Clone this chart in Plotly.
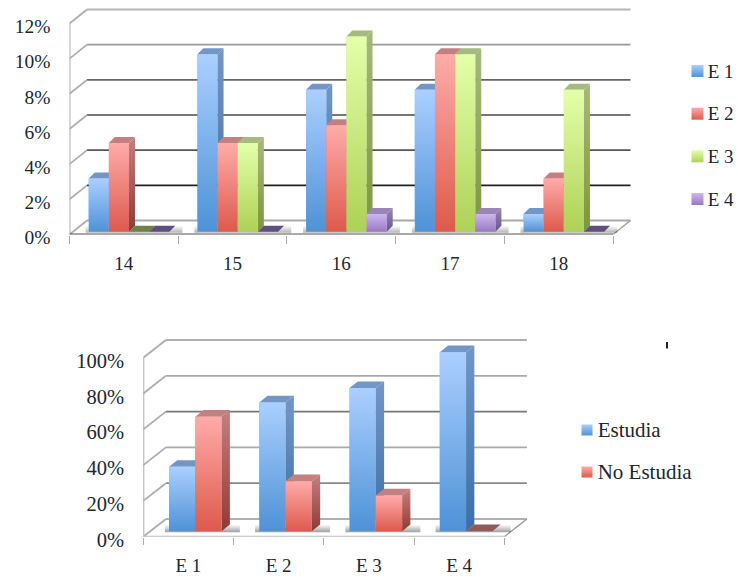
import plotly.graph_objects as go

W, H = 738, 578

# ---------- data ----------
ages = ["14", "15", "16", "17", "18"]
e1 = [3, 10, 8, 8, 1]
e2 = [5, 5, 6, 10, 3]
e3 = [0, 5, 11, 10, 8]
e4 = [0, 0, 1, 1, 0]
age_ticks = [0, 2, 4, 6, 8, 10, 12]

stages = ["E 1", "E 2", "E 3", "E 4"]
estudia = [36, 72, 80, 100]
no_estudia = [64, 28, 20, 0]
pct_ticks = [0, 20, 40, 60, 80, 100]

# ---------- palette ----------
PAL = {
    "blue":   dict(top="#abcfff", bot="#4e92d6", mid="#7fb0ea", stop="#7396c6", sbot="#3c6ea6", ztop="#56729c"),
    "red":    dict(top="#ffabaa", bot="#dd5a4c", mid="#ee827a", stop="#c38080", sbot="#8f3a34", ztop="#8e5a5a"),
    "green":  dict(top="#e4ffaa", bot="#aed156", mid="#c9e880", stop="#a6b97e", sbot="#7c963f", ztop="#6f8145"),
    "purple": dict(top="#cdb6ee", bot="#9a78c4", mid="#b397d9", stop="#9a86b6", sbot="#69538f", ztop="#5f4f80"),
}

PANELS = [
    dict(x="x", y="y", cats=ages, ticks=age_ticks,
         series=[("E 1", e1, "blue"), ("E 2", e2, "red"), ("E 3", e3, "green"), ("E 4", e4, "purple")],
         left=69.5, right=613.0, y0=234.5, ytop=23.5, vmax=12, pad_right=24, pad_top=5,
         back=(17.5, 14.0), depth=(6.0, 6.0), base_px=2.8, scale=1.009,
         start=19.2, bar=20.15, tlen_x=12, tlen_y=14, mlen=8, yfont=19.5, xfont=19,
         grid=["#aaaaaa", "#222222", "#555555", "#777777", "#666666", "#999999", "#b5b5b5"],
         front="#555555", shadow=0.30),
    dict(x="x2", y="y2", cats=stages, ticks=pct_ticks,
         series=[("Estudia", estudia, "blue"), ("No Estudia", no_estudia, "red")],
         left=143.3, right=504.3, y0=536.7, ytop=357.7, vmax=100, pad_right=26, pad_top=5,
         back=(22.6, 17.7), depth=(8.3, 6.7), base_px=5.4, scale=1.0,
         start=25.7, bar=26.3, tlen_x=11, tlen_y=14, mlen=7, yfont=20.5, xfont=19,
         grid=["#b0b0b0", "#888888", "#aaaaaa", "#777777", "#aaaaaa", "#b0b0b0"],
         front="#bbbbbb", shadow=0.38),
]

LEGENDS = [
    dict(names=["E 1", "E 2", "E 3", "E 4"], colors=["blue", "red", "green", "purple"],
         cx=697.5, tx=707.7, ys=[71, 113.7, 156.3, 199], size=12, font=19),
    dict(names=["Estudia", "No Estudia"], colors=["blue", "red"],
         cx=587, tx=597.7, ys=[430, 472], size=11, font=21),
]

TEXT = "#20262e"
FONT = "Liberation Serif"
fig = go.Figure()


def poly(p, xs, ys, fill=None, grad=None, orient="vertical"):
    kw = dict(fillcolor=fill) if fill else dict(
        fillgradient=dict(type=orient, colorscale=[[0, grad[0]], [1, grad[1]]]))
    fig.add_trace(go.Scatter(x=xs + xs[:1], y=ys + ys[:1], mode="lines", fill="toself",
                             line=dict(width=0), hoverinfo="skip", showlegend=False,
                             xaxis=p["x"], yaxis=p["y"], **kw))


def line(p, xs, ys, color, width):
    fig.add_trace(go.Scatter(x=xs, y=ys, mode="lines", line=dict(color=color, width=width),
                             hoverinfo="skip", showlegend=False, xaxis=p["x"], yaxis=p["y"]))


for p in PANELS:
    n = len(p["cats"])
    cw = (p["right"] - p["left"]) / n          # px per category
    vh = (p["y0"] - p["ytop"]) / p["vmax"]     # px per value unit
    bx, by = p["back"][0] / cw, p["back"][1] / vh
    dx, dy = p["depth"][0] / cw, p["depth"][1] / vh
    base = p["base_px"] / vh
    start, bw = p["start"] / cw, p["bar"] / cw
    xmax = n + p["pad_right"] / cw
    p["xrange"] = [0, xmax]
    p["yrange"] = [0, (p["y0"] - p["pad_top"]) / vh if p["y"] == "y" else (p["y0"] - 335) / vh]

    # floor
    poly(p, [0, n, n + bx, bx], [0, 0, by, by], fill="#ffffff")
    # wall + grid
    for t, col in zip(p["ticks"], p["grid"]):
        line(p, [bx, n + bx], [t + by, t + by], col, 1.8)
        line(p, [0, bx], [t, t + by], "#adadad", 1.8)
    line(p, [0, 0], [0, p["vmax"]], "#adadad", 2)
    line(p, [n, n + bx], [0, by], "#999999", 1.3)
    line(p, [0, n], [0, 0], p["front"], 1.8)

    # soft shadow on the floor under every group
    m = len(p["series"])
    for i in range(n):
        x0 = i + start
        x1 = x0 + m * bw
        poly(p, [x0 - dx * 0.5, x1 + dx * 2.2, x1 + dx * 2.2, x0 - dx * 0.5],
             [base - 1 / vh, base - 1 / vh, base + dy, base + dy],
             grad=(f"rgba(0,0,0,{p['shadow']})", "rgba(0,0,0,0)"))

    # native bars carrying the values
    for s, (name, vals, c) in enumerate(p["series"]):
        fig.add_trace(go.Bar(x=[i + start + s * bw for i in range(n)],
                             y=[v * p["scale"] for v in vals], base=base, width=bw, offset=0,
                             name=name, marker=dict(color=PAL[c]["mid"], line=dict(width=0)),
                             customdata=p["cats"], hovertemplate="%{customdata}: %{y}<extra>" + name + "</extra>",
                             showlegend=False, xaxis=p["x"], yaxis=p["y"]))

    # 3-D faces drawn from the same values
    for i in range(n):
        for s, (name, vals, c) in enumerate(p["series"]):
            col = PAL[c]
            x0 = i + start + s * bw
            x1 = x0 + bw
            top = base + vals[i] * p["scale"]
            if vals[i] == 0:
                poly(p, [x0, x1, x1 + dx, x0 + dx], [top, top, top + dy, top + dy], fill=col["ztop"])
                continue
            poly(p, [x1, x1 + dx, x1 + dx, x1], [base, base + dy, top + dy, top],
                 grad=(col["sbot"], col["stop"]))
            poly(p, [x0, x1, x1 + dx, x0 + dx], [top, top, top + dy, top + dy], fill=col["stop"])
            poly(p, [x0, x1, x1, x0], [base, base, top, top], grad=(col["bot"], col["top"]))

# legends (gradient keys with real text)
for lg in LEGENDS:
    for name, c, ypx in zip(lg["names"], lg["colors"], lg["ys"]):
        fig.add_trace(go.Scatter(
            x=[lg["cx"]], y=[ypx], mode="markers", name=name, showlegend=False, hoverinfo="skip",
            marker=dict(symbol="square", size=lg["size"], color=PAL[c]["top"],
                        gradient=dict(type="vertical", color=PAL[c]["bot"]), line=dict(width=0)),
            xaxis="x3", yaxis="y3"))
        fig.add_trace(go.Scatter(
            x=[lg["tx"]], y=[ypx + 2], mode="text", text=[name], textposition="middle right",
            textfont=dict(family=FONT, size=lg["font"], color=TEXT), showlegend=False,
            hoverinfo="skip", xaxis="x3", yaxis="y3"))


def axis_layout(p):
    n = len(p["cats"])
    xr, yr = p["xrange"], p["yrange"]
    vh = (p["y0"] - p["ytop"]) / p["vmax"]
    cw = (p["right"] - p["left"]) / n
    xdom = [p["left"] / W, (p["left"] + xr[1] * cw) / W]
    ydom = [1 - p["y0"] / H, 1 - (p["y0"] - yr[1] * vh) / H]
    xa = dict(domain=xdom, range=xr, showgrid=False, zeroline=False, showline=False, automargin=False,
              tickmode="array", tickvals=[i + 0.5 for i in range(n)], ticktext=p["cats"],
              ticks="outside", ticklen=p["tlen_x"], tickcolor="rgba(0,0,0,0)",
              tickfont=dict(family=FONT, size=p["xfont"], color=TEXT),
              minor=dict(tickmode="array", tickvals=list(range(n + 1)), ticks="outside",
                         ticklen=p["mlen"], tickcolor="#aaaaaa", tickwidth=1.3, showgrid=False),
              fixedrange=True, anchor=p["y"])
    ya = dict(domain=ydom, range=yr, showgrid=False, zeroline=False, showline=False, automargin=False,
              tickmode="array", tickvals=p["ticks"], ticktext=[f"{t}%" for t in p["ticks"]],
              ticks="outside", ticklen=p["tlen_y"], tickcolor="rgba(0,0,0,0)", ticklabelshift=3,
              tickfont=dict(family=FONT, size=p["yfont"], color=TEXT),
              fixedrange=True, anchor=p["x"])
    return xa, ya


xa1, ya1 = axis_layout(PANELS[0])
xa2, ya2 = axis_layout(PANELS[1])

fig.update_layout(
    width=W, height=H, margin=dict(l=0, r=0, t=0, b=0),
    paper_bgcolor="white", plot_bgcolor="rgba(0,0,0,0)",
    barmode="overlay", showlegend=False,
    xaxis=xa1, yaxis=ya1, xaxis2=xa2, yaxis2=ya2,
    xaxis3=dict(domain=[0, 1], range=[0, W], visible=False, fixedrange=True, anchor="y3", automargin=False),
    yaxis3=dict(domain=[0, 1], range=[H, 0], visible=False, fixedrange=True, anchor="x3", automargin=False),
    shapes=[dict(type="line", xref="paper", yref="paper", x0=667 / W, x1=667 / W,
                 y0=1 - 342 / H, y1=1 - 348.5 / H, line=dict(color="#222222", width=2))],
)

fig.write_html("out.html", config={"displayModeBar": False},
               post_script="document.body.style.margin='0';document.body.style.overflow='hidden';")
